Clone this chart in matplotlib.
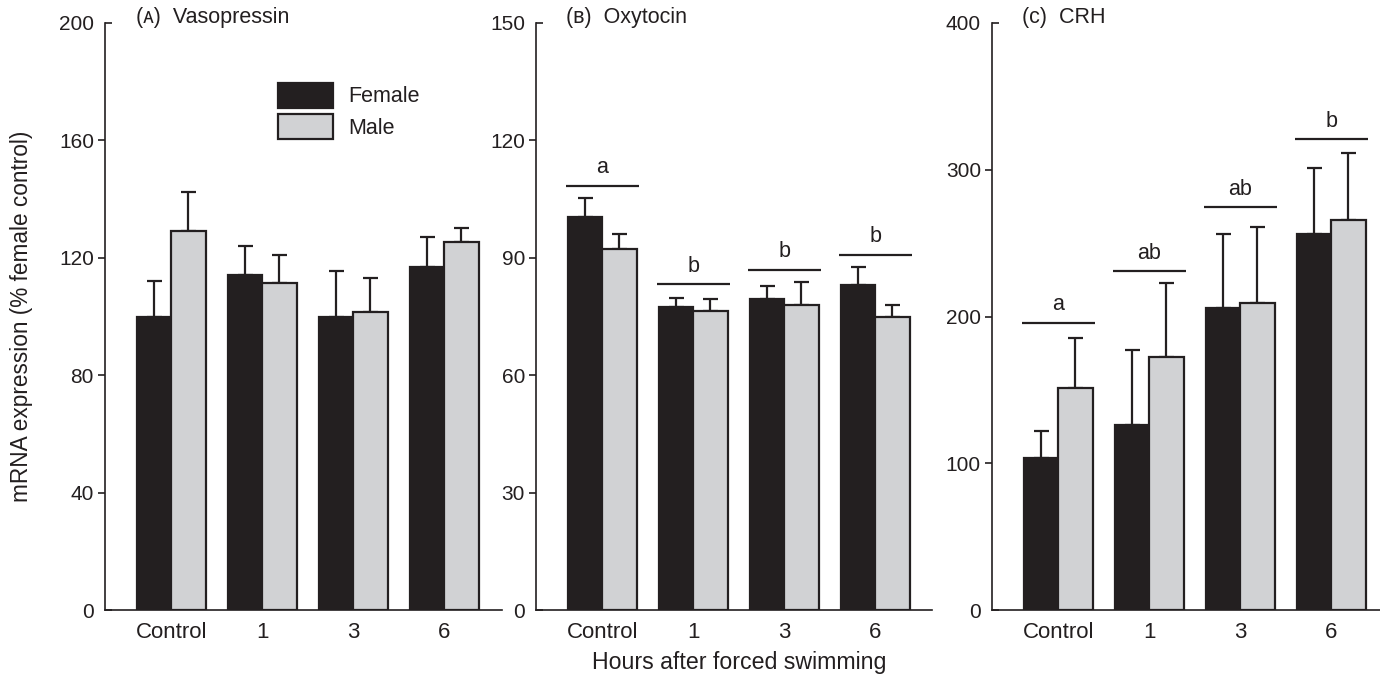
import matplotlib
matplotlib.use("Agg")
import matplotlib.pyplot as plt
import numpy as np

plt.rcParams['font.family'] = ['Liberation Sans', 'DejaVu Sans']

# ---------------- data ----------------
groups = ["Control", "1", "3", "6"]
series = ["Female", "Male"]

# (A) Vasopressin
vaso_female = [100, 114, 100, 117]
vaso_female_sem = [12, 10, 15.5, 10]
vaso_male = [129, 111.5, 101.5, 125.5]
vaso_male_sem = [13.5, 9.5, 11.5, 4.5]

# (B) Oxytocin
oxy_female = [100.4, 77.4, 79.5, 83]
oxy_female_sem = [4.8, 2.3, 3.4, 4.6]
oxy_male = [92.3, 76.3, 78, 74.8]
oxy_male_sem = [3.9, 3.1, 5.7, 3.1]
oxy_sig_y = [108.4, 83.2, 87, 90.8]
oxy_sig_lab = ["a", "b", "b", "b"]

# (C) CRH
crh_female = [103.8, 126.3, 206.1, 255.9]
crh_female_sem = [18.2, 50.9, 50.3, 45.3]
crh_male = [151.2, 172.5, 209.4, 265.5]
crh_male_sem = [34.2, 50, 51.7, 45.9]
crh_sig_y = [195.9, 230.7, 274.6, 320.8]
crh_sig_lab = ["a", "ab", "ab", "b"]

panel_letters = ["\u1d00", "\u0299", "\u1d04"]  # small caps A, B, C
panel_names = ["Vasopressin", "Oxytocin", "CRH"]
ymax = [200, 150, 400]
ystep = [40, 30, 100]

# ---------------- style ----------------
INK = "#231f20"
GREY = "#d1d2d4"
FS_YT = 15
FS_XT = 16
FS_T = 15.5
FS_LAB = 16.3
W, H = 1380, 674

fig = plt.figure(figsize=(W / 100, H / 100), dpi=100)

axes_px = [(105, 502), (536, 932), (992, 1380)]
top_px, bot_px = 23, 610
px_per_group = 91.0
bw = 0.375

datasets = [
    (vaso_female, vaso_female_sem, vaso_male, vaso_male_sem, None, None),
    (oxy_female, oxy_female_sem, oxy_male, oxy_male_sem, oxy_sig_y, oxy_sig_lab),
    (crh_female, crh_female_sem, crh_male, crh_male_sem, crh_sig_y, crh_sig_lab),
]

x = np.arange(len(groups))
for i, ((l, r), (fv, fe, mv, me, sy, sl)) in enumerate(zip(axes_px, datasets)):
    ax = fig.add_axes([l / W, 1 - bot_px / H, (r - l) / W, (bot_px - top_px) / H])
    left = -0.73
    ax.set_xlim(left, left + (r - l) / px_per_group)
    ax.set_ylim(0, ymax[i])

    ax.bar(x - bw / 2, fv, bw, color=INK, edgecolor=INK, linewidth=1.6,
           label=series[0], zorder=2)
    ax.bar(x + bw / 2, mv, bw, color=GREY, edgecolor=INK, linewidth=1.6,
           label=series[1], zorder=2)
    ax.errorbar(x - bw / 2, fv, yerr=[np.zeros(len(fv)), fe], fmt="none",
                ecolor=INK, elinewidth=1.6, capsize=5.4, capthick=1.6, zorder=1)
    ax.errorbar(x + bw / 2, mv, yerr=[np.zeros(len(mv)), me], fmt="none",
                ecolor=INK, elinewidth=1.6, capsize=5.4, capthick=1.6, zorder=1)

    if sy is not None:
        for xi, yv, lab in zip(x, sy, sl):
            ax.plot([xi - 0.40, xi + 0.40], [yv, yv], color=INK, lw=1.6,
                    solid_capstyle="butt", clip_on=False)
            ax.annotate(lab, (xi, yv), xytext=(0, 9), textcoords="offset points",
                        ha="center", va="baseline", fontsize=FS_T, color=INK)

    for s in ["top", "right"]:
        ax.spines[s].set_visible(False)
    for s in ["left", "bottom"]:
        ax.spines[s].set_linewidth(1.2)
        ax.spines[s].set_color(INK)

    ticks = np.arange(ystep[i], ymax[i], ystep[i])
    ax.set_yticks(ticks)
    ax.set_yticks([0, ymax[i]], minor=True)
    ax.set_yticklabels([str(int(t)) for t in ticks])
    ax.set_yticklabels(["0", str(ymax[i])], minor=True)
    ax.tick_params(axis="y", which="major", direction="out", length=5, width=1.2,
                   pad=3, labelsize=FS_YT, colors=INK)
    ax.tick_params(axis="y", which="minor", direction="in", length=5, width=1.2,
                   pad=8, labelsize=FS_YT, colors=INK)
    ax.set_xticks(x)
    ax.set_xticklabels(groups)
    ax.tick_params(axis="x", length=0, pad=9, labelsize=FS_XT, colors=INK)

    ax.text(0.077, 1.010, f"({panel_letters[i]})  {panel_names[i]}",
            transform=ax.transAxes, ha="left", va="center", fontsize=FS_T,
            color=INK, family=["Liberation Sans", "DejaVu Sans"])

    if i == 0:
        leg = ax.legend(loc="upper left",
                        bbox_to_anchor=((278 - l) / (r - l), 1 - (83 - top_px) / (bot_px - top_px)),
                        frameon=False, fontsize=FS_T, handlelength=2.55, handleheight=1.38,
                        handletextpad=0.72, labelspacing=0.3, borderpad=0,
                        borderaxespad=0)
        for t in leg.get_texts():
            t.set_color(INK)

fig.text(22 / W, 1 - (top_px + bot_px) / 2 / H, "mRNA expression (% female control)",
         rotation=90, ha="center", va="center", fontsize=FS_LAB, color=INK)
fig.text(739.5 / W, 1 - 662 / H, "Hours after forced swimming",
         ha="center", va="center", fontsize=FS_LAB + 0.4, color=INK)

fig.savefig("out.png", dpi=100)
